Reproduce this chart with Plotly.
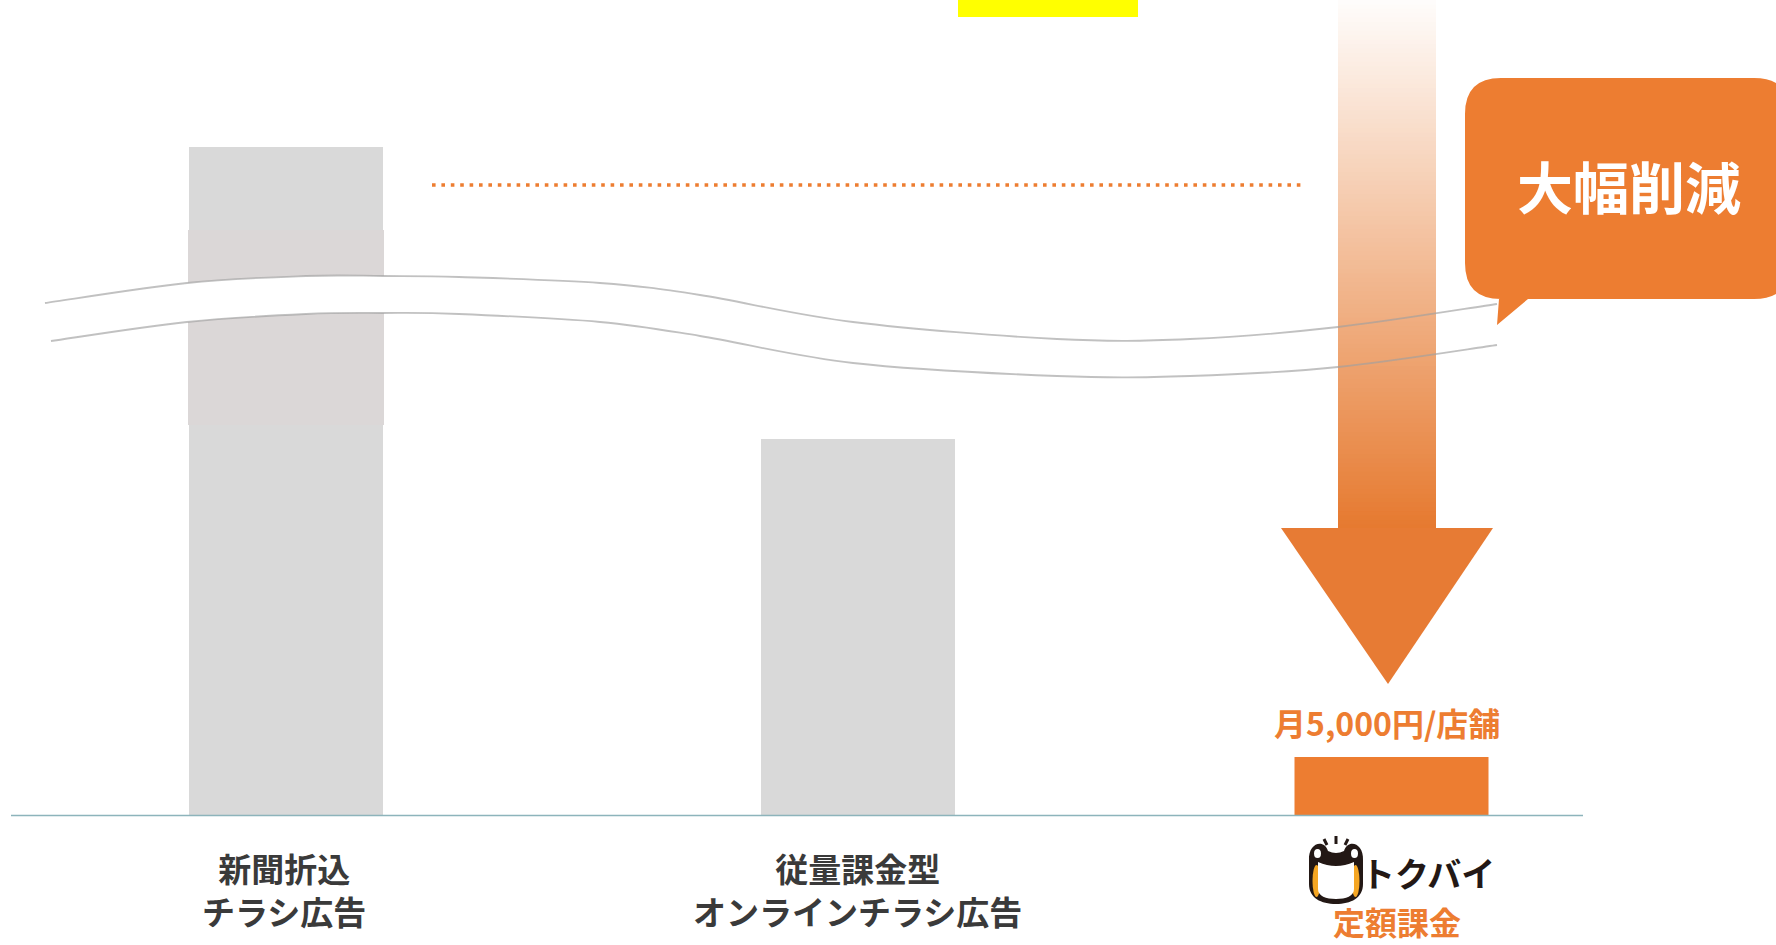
import plotly.graph_objects as go

# ---------------- data ----------------
categories = ["新聞折込<br>チラシ広告", "従量課金型<br>オンラインチラシ広告", "トクバイ"]
values = [668, 376, 58]          # relative bar heights (axis is broken)
bar_colors = ["#D9D9D9", "#D9D9D9", "#ED7D31"]
price_label = "月5,000円/店舗"
callout_text = "大幅削減"
logo_text = "トクバイ"
plan_text = "定額課金"

# ---------------- layout helpers ----------------
W, H = 1776, 945
BASE = 815                        # pixel row of the value axis zero
BAR_X = [286, 858, 1391.5]
BAR_W = 194
FONT = "Noto Sans CJK JP"
ORANGE = "#ED7D31"


def Y(py):
    return BASE - py


def smooth(pts):
    """Catmull-Rom spline through pixel points -> SVG path segments (data coords)."""
    P = [(x, Y(y)) for x, y in pts]
    d = f"{P[0][0]},{P[0][1]}"
    segs = []
    for i in range(len(P) - 1):
        p0 = P[i - 1] if i > 0 else P[i]
        p1, p2 = P[i], P[i + 1]
        p3 = P[i + 2] if i + 2 < len(P) else P[i + 1]
        c1 = (p1[0] + (p2[0] - p0[0]) / 6, p1[1] + (p2[1] - p0[1]) / 6)
        c2 = (p2[0] - (p3[0] - p1[0]) / 6, p2[1] - (p3[1] - p1[1]) / 6)
        segs.append(f"C {c1[0]:.1f},{c1[1]:.1f} {c2[0]:.1f},{c2[1]:.1f} {p2[0]:.1f},{p2[1]:.1f}")
    return d, " ".join(segs)


def pth(s):
    """Convert a path written in pixel coords 'x,y' tokens to data coords."""
    out = []
    for tok in s.split():
        if "," in tok:
            x, y = tok.split(",")
            out.append(f"{float(x)},{Y(float(y))}")
        else:
            out.append(tok)
    return " ".join(out)


upper = [(45, 303), (187, 283), (306, 276), (383, 276), (459, 277), (600, 283),
         (700, 295), (853, 322), (1057, 339), (1190, 339), (1338, 327), (1497, 304)]
lower = [(51, 341), (187, 322), (306, 314), (383, 313), (459, 314), (600, 322),
         (700, 336), (853, 363), (1057, 376), (1190, 376), (1338, 367), (1497, 345)]

fig = go.Figure()
fig.add_trace(go.Bar(
    x=BAR_X, y=values, width=BAR_W,
    marker=dict(color=bar_colors, line=dict(width=0)),
    hoverinfo="skip",
))

shapes = []
# subtle tint band on the first bar
shapes.append(dict(type="rect", x0=188, x1=384, y0=Y(425), y1=Y(230),
                   fillcolor="#DBD7D7", line=dict(width=0)))
# white break band
us, useg = smooth(upper)
ls, lseg = smooth(lower[::-1])
band = f"M {us} {useg} L {ls} {lseg} Z"
shapes.append(dict(type="path", path=band, fillcolor="white", line=dict(width=0)))
# baseline
shapes.append(dict(type="line", x0=11, x1=1583, y0=Y(815.5), y1=Y(815.5),
                   line=dict(color="#8DB4BB", width=1.5)))
# dotted reference line
shapes.append(dict(type="line", x0=432, x1=1306, y0=Y(185), y1=Y(185),
                   line=dict(color=ORANGE, width=3.6, dash="3.6px,5.8px")))
# yellow highlight at very top
shapes.append(dict(type="rect", x0=958, x1=1138, y0=Y(17), y1=Y(-5),
                   fillcolor="#FFFF00", line=dict(width=0)))
# gradient arrow shaft (opaque blends of white -> orange)
N = 120
top, bot = 0, 529
c_end = (230, 122, 48)
for i in range(N):
    a = 0.02 + 0.98 * i / (N - 1)
    rgb = tuple(round(255 + (c - 255) * a) for c in c_end)
    y0 = top + (bot - top) * i / N
    y1 = min(bot, top + (bot - top) * (i + 1) / N + 1.0)
    shapes.append(dict(type="rect", x0=1338, x1=1436, y0=Y(y1), y1=Y(y0),
                       fillcolor="rgb(%d,%d,%d)" % rgb, line=dict(width=0)))
# arrow head
shapes.append(dict(type="path", path=pth("M 1281,528 L 1493,528 L 1388,684 Z"),
                   fillcolor="#E77B34", line=dict(width=0)))
# wave lines
for pts in (upper, lower):
    s, seg = smooth(pts)
    shapes.append(dict(type="path", path=f"M {s} {seg}",
                       line=dict(color="rgba(160,160,160,0.65)", width=1.8)))
# callout bubble
r = 36
x0c, x1c, y0c, y1c = 1465, 1790, 78, 299
bubble = (f"M {x0c + r},{y0c} L {x1c - r},{y0c} Q {x1c},{y0c} {x1c},{y0c + r} "
          f"L {x1c},{y1c - r} Q {x1c},{y1c} {x1c - r},{y1c} "
          f"L 1528,{y1c} L 1497,325 L 1499,{y1c} "
          f"L {x0c + r},{y1c} Q {x0c},{y1c} {x0c},{y1c - r} "
          f"L {x0c},{y0c + r} Q {x0c},{y0c} {x0c + r},{y0c} Z")
shapes.append(dict(type="path", path=pth(bubble), fillcolor=ORANGE, line=dict(width=0)))

# ---- logo icon (shopping bag) ----
DARK = "#231815"
shapes.append(dict(type="path",
                   path=pth("M 1309,860 C 1308,843 1324,838 1328,851 Q 1336,855 1344,851 "
                            "C 1348,838 1364,843 1363,860 L 1363,884 C 1363,898 1351,904 1336,904 "
                            "C 1321,904 1309,898 1309,884 Z"),
                   fillcolor=DARK, line=dict(width=0)))
shapes.append(dict(type="circle", x0=1312.5, x1=1320.5, y0=Y(897), y1=Y(865),
                   fillcolor="#F5A623", line=dict(width=0)))
shapes.append(dict(type="circle", x0=1351.5, x1=1359.5, y0=Y(897), y1=Y(865),
                   fillcolor="#F5A623", line=dict(width=0)))
shapes.append(dict(type="path",
                   path=pth("M 1318,862 Q 1336,870 1354,862 L 1354,889 C 1354,896 1346,899 1336,899 "
                            "C 1326,899 1318,896 1318,889 Z"),
                   fillcolor="white", line=dict(width=0)))
shapes.append(dict(type="circle", x0=1314, x1=1321, y0=Y(858), y1=Y(849),
                   fillcolor="white", line=dict(width=0)))
shapes.append(dict(type="circle", x0=1351, x1=1358, y0=Y(858), y1=Y(849),
                   fillcolor="white", line=dict(width=0)))
for (ax, ay, bx, by) in [(1327, 845, 1324, 839), (1336, 844, 1336, 836), (1345, 845, 1348, 839)]:
    shapes.append(dict(type="line", x0=ax, x1=bx, y0=Y(ay), y1=Y(by),
                       line=dict(color=DARK, width=3)))

annotations = []


def ann(text, x, py, size, color, bold=True):
    annotations.append(dict(
        x=x, y=Y(py), xref="x", yref="y", text=f"<b>{text}</b>" if bold else text,
        showarrow=False, xanchor="center", yanchor="middle",
        font=dict(family=FONT, size=size, color=color), align="center",
    ))


ann(price_label, 1387, 722, 32, ORANGE)
ann(callout_text, 1629, 184, 56, "white")
ann(categories[0], 284, 889, 33, "#3A3A3A")
ann(categories[1], 857, 889, 33, "#3A3A3A")
ann(logo_text, 1428, 872, 34, DARK)
ann(plan_text, 1397, 921, 32, ORANGE)

fig.update_layout(
    width=W, height=H,
    margin=dict(l=0, r=0, t=0, b=0),
    paper_bgcolor="white", plot_bgcolor="white",
    showlegend=False,
    xaxis=dict(range=[0, W], visible=False, fixedrange=True),
    yaxis=dict(range=[BASE - H, BASE], visible=False, fixedrange=True),
    shapes=shapes,
    annotations=annotations,
    font=dict(family=FONT),
)

fig.write_html("out.html", config={"displayModeBar": False},
               post_script="document.body.style.margin='0';document.body.style.overflow='hidden';")
